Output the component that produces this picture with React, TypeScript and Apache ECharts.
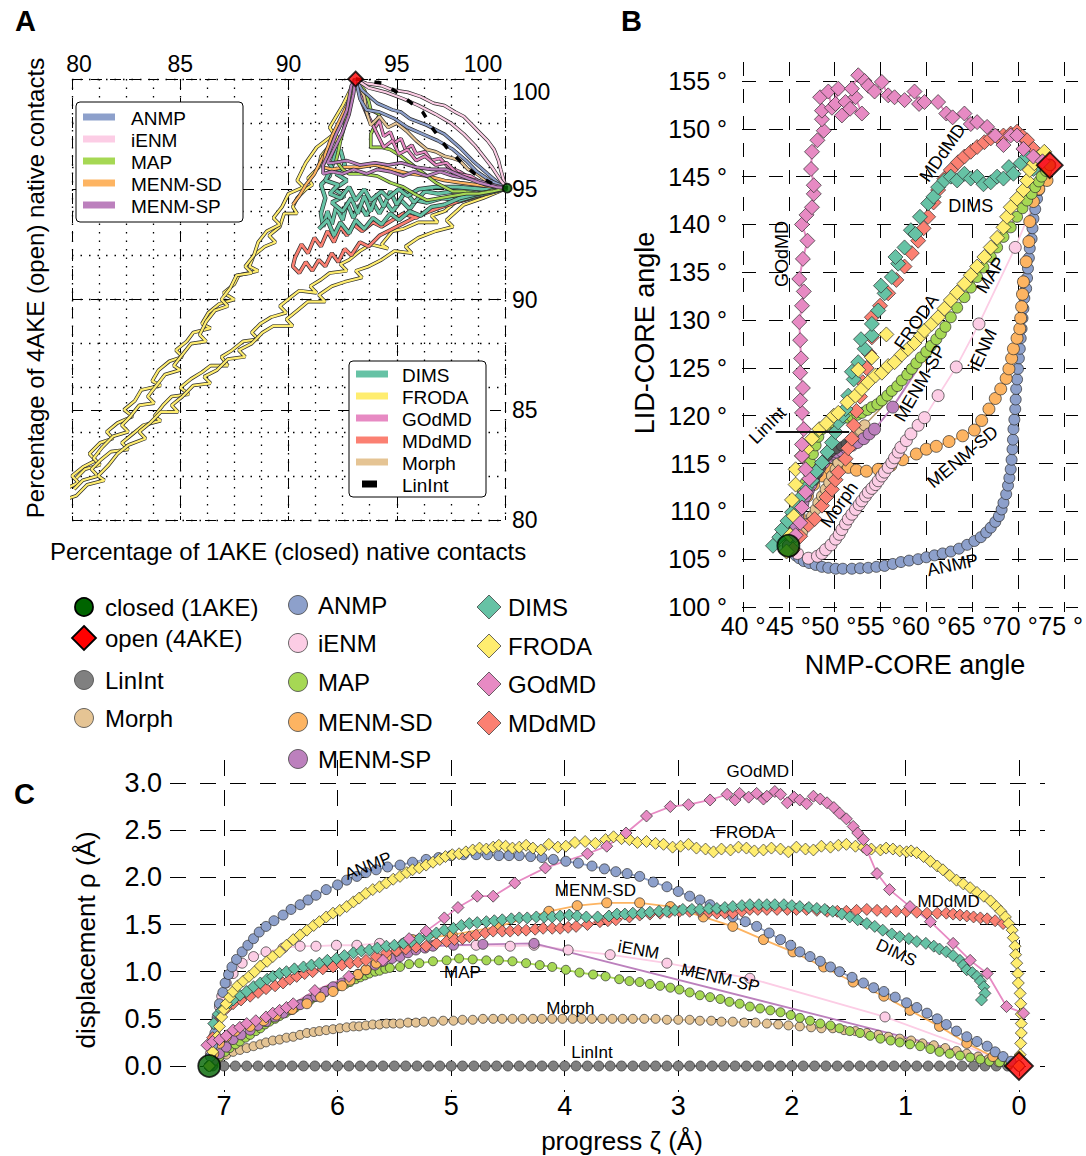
import React, { useEffect, useRef } from "react";
import * as echarts from "echarts";

type P = [number, number];

const FONT = '"Liberation Sans", Arial, Helvetica, sans-serif';

const COLORS: Record<string, string> = {
  ANMP: "#8DA0CB",
  iENM: "#FCCDE5",
  MAP: "#A6D854",
  "MENM-SD": "#FDB462",
  "MENM-SP": "#BC80BD",
  DIMS: "#66C2A5",
  FRODA: "#FFED6F",
  GOdMD: "#E78AC3",
  MDdMD: "#FB8072",
  Morph: "#E5C494",
  LinInt: "#808080",
};

// ---------------- Panel A : native contacts (%1AKE, %4AKE) ----------------
const A_CLOSED: P = [100.1, 95.05];
const A_OPEN: P = [93.1, 100];

const A_ANMP_1: P[] = [[93.1,100],[93.4,99.5],[94.1,98.9],[94.8,98.6],[95.2,98.5],[95.6,98.2],[96.4,97.9],[97.2,97.5],[97.9,96.9],[98.5,96.3],[99.2,95.7],[99.8,95.2],[100.1,95.05]];
const A_ANMP_2: P[] = [[93.1,100],[93.3,99.1],[93.6,98.6],[94.2,98.5],[94.9,98.2],[95.5,97.8],[96.2,97.5],[96.9,97.2],[97.6,96.8],[98.2,96.3],[98.7,95.8],[99.3,95.4],[100.1,95.05]];
const A_IENM_1: P[] = [[93.1,100],[93.6,99.8],[94.3,99.7],[94.8,99.5],[95.5,99.4],[96.1,99.2],[96.7,98.9],[97.2,98.8],[97.7,98.5],[98.1,98.3],[98.5,97.9],[98.8,97.6],[99.2,97.2],[99.5,96.8],[99.7,96.3],[99.8,95.9],[100.0,95.2]];
const A_IENM_2: P[] = [[93.1,100],[93.7,99.6],[94.5,99.4],[95.3,99.1],[96.0,98.8],[96.8,98.4],[97.5,98.0],[98.1,97.5],[98.6,97.0],[99.0,96.5],[99.4,96.0],[99.8,95.4],[100.1,95.05]];
const A_LININT: P[] = [[93.1,100],[94.4,99.8],[95.3,99.2],[96.2,98.5],[96.7,97.7],[97.3,96.9],[97.9,96.3],[98.6,95.7],[99.5,95.2],[100.1,95.05]];
const A_MORPH: P[] = [[93.1,100],[93.5,99.2],[93.6,98.5],[93.8,97.9],[94.2,98.3],[94.6,97.8],[95.0,98.0],[95.5,97.6],[95.9,97.2],[96.4,96.8],[96.8,96.7],[97.2,96.5],[97.6,96.4],[97.9,96.3],[98.3,95.9],[98.7,95.7],[99.1,95.4],[99.5,95.3],[100.1,95.05]];
const A_MAP_1: P[] = [[93.1,100],[93.5,99.5],[93.7,99.0],[93.8,98.6],[94.2,98.4],[94.0,97.9],[93.8,97.5],[93.8,96.9],[94.3,96.9],[94.7,96.8],[95.2,96.5],[95.6,96.2],[96.0,95.9],[96.4,95.6],[96.8,95.3],[97.2,95.1],[97.6,94.9],[98.1,94.9],[98.7,94.8],[99.2,94.9],[99.6,95.0],[100.1,95.05]];
const A_MAP_2: P[] = [[93.1,100],[92.9,99.3],[92.7,98.6],[92.6,97.9],[92.4,97.2],[92.3,96.7],[92.2,96.3],[92.5,95.9],[92.8,95.7],[93.4,95.7],[94.1,95.6],[94.7,95.3],[95.3,95.1],[95.8,94.8],[96.4,94.5],[97.0,94.6],[97.6,94.7],[98.2,94.8],[98.8,94.8],[99.4,94.9],[100.1,95.05]];
const A_MENMSD_1: P[] = [[93.1,100],[92.9,99.2],[92.6,98.5],[92.2,97.7],[91.9,97.0],[91.5,96.3],[91.2,95.7],[90.8,95.2],[90.5,94.7],[90.2,94.3]];
const A_MENMSD_2: P[] = [[93.1,100],[92.8,99.0],[92.4,98.2],[92.0,97.4],[91.7,96.6],[91.6,96.0],[92.0,95.9],[92.6,96.0],[93.3,96.0],[94.0,96.1],[94.8,95.9],[95.6,95.7],[96.4,95.6],[97.2,95.4],[97.9,95.3],[98.7,95.2],[99.5,95.1],[100.1,95.05]];
const A_MENMSP_1: P[] = [[93.1,100],[92.9,99.7],[92.7,98.6],[92.4,97.9],[92.2,97.5],[92.0,97.0],[91.8,96.5],[91.6,96.1],[91.6,95.7],[92.0,95.8],[92.5,95.7],[93.0,95.9],[93.6,95.7],[94.1,95.9],[94.7,95.8],[95.3,95.6],[95.8,95.8],[96.4,95.6],[97.0,95.8],[97.6,95.6],[98.2,95.5],[98.7,95.4],[99.4,95.2],[100.1,95.05]];
const A_MENMSP_2: P[] = [[93.1,100],[93.0,99.3],[92.8,98.4],[92.5,97.6],[92.1,96.8],[91.8,96.2],[92.1,96.2],[92.7,96.3],[93.3,96.1],[94.0,96.2],[94.6,96.1],[95.2,96.2],[95.9,96.0],[96.6,95.9],[97.3,95.9],[98.0,95.6],[98.8,95.3],[99.6,95.1],[100.1,95.05]];
const A_GODMD_1: P[] = [[93.1,100],[93.4,98.9],[93.7,98.2],[94.0,97.8],[94.2,98.1],[94.4,97.4],[94.7,97.6],[94.9,97.1],[95.2,97.3],[95.4,96.8],[95.7,97.0],[95.9,96.6],[96.3,96.7],[96.6,96.3],[97.0,96.4],[97.4,96.0],[97.9,95.8],[98.4,95.5],[99.0,95.3],[99.6,95.1],[100.1,95.05]];
const A_GODMD_2: P[] = [[93.1,100],[93.6,98.5],[94.1,97.5],[94.4,96.9],[94.8,97.2],[95.1,96.6],[95.5,96.8],[95.9,96.3],[96.3,96.5],[96.8,96.1],[97.3,96.2],[97.8,95.7],[98.4,95.6],[99.1,95.2],[100.1,95.05]];
const A_DIMS_1: P[] = [[100.1,95.05],[99.5,94.9],[98.6,94.7],[97.9,94.5],[97.1,94.6],[96.4,94.4],[95.9,94.5],[95.6,94.1],[95.2,94.5],[94.8,94.0],[94.5,94.4],[94.2,93.9],[93.9,94.4],[93.6,93.8],[93.3,94.3],[93.0,93.7],[92.7,94.4],[92.5,93.6],[92.2,94.2],[92.0,93.4],[91.8,94.0],[91.6,93.3],[91.5,93.9],[91.7,94.6],[91.5,95.2],[91.9,95.6],[92.1,96.4],[92.3,96.9]];
const A_DIMS_2: P[] = [[92.4,96.8],[92.6,96.1],[92.2,95.7],[92.7,95.4],[92.1,95.0],[92.6,94.7],[92.0,94.4],[92.5,94.0],[92.9,94.6],[93.2,93.9],[93.5,94.7],[93.8,94.0],[94.1,94.8],[94.4,94.2],[94.7,94.9],[95.0,94.3],[95.4,94.9],[95.8,94.4],[96.3,94.9],[96.9,94.8],[97.6,94.9],[98.5,95.0],[99.4,95.0],[100.1,95.05]];
const A_DIMS_3: P[] = [[91.4,93.2],[91.8,93.6],[92.1,92.9],[92.4,93.5],[92.8,93.0],[93.1,93.6],[93.5,93.2],[93.9,93.7],[94.3,93.4],[94.7,93.9],[95.1,93.6],[95.6,94.0],[96.1,93.8],[96.6,94.2],[97.2,94.3],[97.9,94.6],[98.8,94.8],[100.1,95.05]];
const A_DIMS_4: P[] = [[91.6,96.6],[92.0,96.0],[91.7,95.4],[92.3,95.2],[91.9,94.8],[92.4,94.6],[92.8,95.1],[93.1,94.5],[93.5,95.0],[93.8,94.5],[94.3,94.9],[94.6,94.6],[95.1,95.0],[95.5,94.7],[96.0,95.0],[96.8,95.1],[97.8,95.1],[99.0,95.0],[100.1,95.05]];
const A_MDDMD: P[] = [[100.1,95.05],[99.2,94.8],[98.3,94.6],[97.4,94.3],[96.5,94.1],[95.9,93.7],[95.3,93.9],[94.8,93.6],[94.3,93.3],[93.9,93.5],[93.4,93.1],[93.0,93.4],[92.7,92.9],[92.4,93.3],[92.1,92.6],[91.8,93.1],[91.5,92.4],[91.2,92.8],[90.9,92.1],[90.6,92.5],[90.3,91.9],[90.2,91.5],[90.5,91.2],[90.8,91.7],[91.1,91.3],[91.4,91.8],[91.7,91.5],[92.0,92.1],[92.3,91.7],[92.6,92.3],[92.9,92.0],[93.3,92.6],[93.7,92.4],[94.2,92.9],[94.8,93.2],[95.4,93.5],[96.0,93.8],[96.8,94.1],[97.7,94.4],[98.7,94.7],[100.1,95.05]];
const A_FRODA_1: P[] = [[93.1,100],[92.8,99.0],[92.6,98.3],[92.1,97.6],[92.3,97.3],[92.0,97.1],[91.5,96.5],[91.4,96.0],[90.9,95.5],[91.1,95.2],[90.8,95.0],[90.4,94.6],[90.2,94.2],[90.4,93.9],[89.8,93.9],[89.6,93.3],[89.1,92.9],[89.4,92.6],[88.9,92.4],[88.4,92.0],[88.2,91.5],[88.6,91.3],[87.7,91.1],[87.5,90.7],[87.0,90.3],[87.5,90.0],[86.8,89.8],[86.3,89.4],[86.0,88.9],[86.4,88.7],[85.6,88.5],[85.3,88.1],[84.8,87.7],[85.1,87.4],[84.5,87.2],[84.0,86.8],[83.7,86.3],[84.1,86.1],[83.2,85.9],[82.9,85.4],[82.4,85.0],[82.8,84.7],[82.1,84.4],[81.6,84.0],[81.9,83.7],[81.3,83.5],[80.8,83.0],[81.1,82.7],[80.5,82.4],[80.0,82.0],[80.3,81.7],[79.7,81.4],[79.2,81.0],[79.6,80.9],[79.1,80.8]];
const A_FRODA_2: P[] = [[100.1,95.05],[99.3,94.8],[98.5,94.6],[97.7,94.4],[97.2,94.0],[96.6,93.8],[96.9,93.5],[96.0,93.5],[95.3,93.2],[94.8,93.1],[94.3,92.5],[94.6,92.3],[93.8,92.5],[93.3,92.2],[92.8,91.8],[92.4,91.6],[92.7,91.3],[91.9,91.2],[91.5,90.9],[91.0,90.6],[91.3,90.3],[90.5,90.4],[90.1,90.1],[89.6,89.7],[89.9,89.4],[89.2,89.2],[88.7,88.9],[88.3,88.5],[88.6,88.2],[87.9,88.1],[87.4,87.7],[86.9,87.4],[87.2,87.0],[86.4,87.0],[86.0,86.7],[85.5,86.4],[85.0,86.0],[85.4,85.7],[84.6,85.6],[84.2,85.2],[83.8,84.7],[84.1,84.5],[83.3,84.3],[82.8,83.9],[82.3,83.5],[82.6,83.2],[81.8,83.1],[81.3,82.7],[80.9,82.3],[81.2,82.0],[80.5,81.8],[80.1,81.4]];
const A_FRODA_3: P[] = [[100.1,95.05],[99.0,94.6],[98.1,94.3],[97.3,93.6],[97.6,93.3],[96.8,93.1],[96.0,92.8],[95.4,92.4],[95.7,92.1],[94.9,92.2],[94.3,91.8],[93.7,91.5],[93.1,91.3],[93.4,91.0],[92.6,90.8],[92.0,90.6],[91.4,90.2],[91.7,89.9],[90.9,89.9],[90.4,89.5],[89.9,89.1],[90.2,88.8],[89.3,88.8],[88.8,88.5],[88.3,88.0],[87.7,87.7],[88.0,87.4],[87.2,87.3],[86.7,86.8],[86.1,86.5],[86.4,86.2],[85.6,86.1],[85.1,85.6],[84.6,85.2],[84.9,84.9],[84.1,84.9],[83.6,84.4],[83.1,84.0],[83.4,83.7],[82.6,83.4],[82.1,83.0],[81.7,82.5],[81.2,82.0],[81.5,81.8],[80.7,81.6],[80.2,81.1],[79.6,80.9]];
const A_FRODA_4: P[] = [[93.1,100],[92.5,98.8],[91.9,97.8],[92.1,97.5],[91.3,96.9],[90.8,96.2],[90.4,95.4],[90.7,95.1],[90.0,94.8],[89.7,94.2],[89.3,93.7],[89.6,93.4],[89.0,93.1],[88.6,92.6],[88.4,92.0],[88.0,91.5],[88.3,91.2],[87.6,91.1],[87.3,90.5],[86.9,90.0],[87.2,89.7],[86.6,89.5],[86.2,89.0],[85.9,88.4],[86.2,88.1],[85.5,88.0],[85.1,87.5],[84.7,87.0],[85.0,86.8],[84.3,86.6],[83.9,86.1],[83.5,85.6],[83.8,85.3],[83.1,85.2],[82.7,84.7],[82.3,84.3],[82.6,84.0],[81.9,83.8],[81.4,83.3],[81.0,82.8],[81.3,82.5],[80.6,82.3],[80.2,81.9]];

// ---------------- Panel B : NMP-CORE vs LID-CORE angle ----------------
const B_CLOSED: P = [45.0, 106.4];
const B_OPEN: P = [73.8, 146.2];

const B_ANMP: P[] = [[45.0,106.4],[45.4,105.8],[45.8,105.4],[46.2,105.1],[46.7,104.8],[47.3,104.6],[48.0,104.4],[48.7,104.2],[49.4,104.1],[50.2,104.0],[51.0,104.0],[52.0,104.0],[52.9,104.05],[53.8,104.1],[54.7,104.2],[55.6,104.3],[56.5,104.5],[57.4,104.7],[58.3,104.85],[59.3,105.0],[60.2,105.2],[61.1,105.4],[62.0,105.6],[62.9,105.8],[63.8,106.1],[64.7,106.5],[65.5,106.9],[66.2,107.3],[66.8,107.8],[67.3,108.3],[67.8,108.9],[68.2,109.5],[68.5,110.2],[68.7,110.9],[69.0,111.8],[69.2,112.7],[69.35,113.5],[69.5,114.4],[69.6,115.4],[69.7,116.5],[69.75,117.5],[69.8,118.6],[69.9,119.6],[70.0,120.7],[70.05,121.7],[70.1,122.8],[70.2,123.8],[70.3,124.9],[70.4,126.0],[70.5,127.0],[70.6,128.1],[70.7,129.1],[70.8,130.2],[70.9,131.2],[71.0,132.3],[71.2,133.3],[71.3,134.4],[71.4,135.4],[71.5,136.5],[71.6,137.5],[71.8,138.5],[71.9,139.6],[72.0,140.6],[72.2,141.6],[72.4,142.7],[72.6,143.6],[72.9,144.5],[73.3,145.4],[73.8,146.2]];
const B_IENM: P[] = [[45.0,106.4],[46.0,105.6],[47.2,105.1],[48.2,105.3],[48.7,105.6],[49.1,106.0],[49.7,106.5],[50.2,107.1],[50.6,107.6],[50.9,108.1],[51.3,108.7],[51.6,109.2],[52.0,109.7],[52.4,110.2],[52.8,110.7],[53.1,111.1],[53.5,111.6],[53.8,112.0],[54.2,112.4],[54.6,112.8],[54.9,113.2],[55.3,113.7],[55.6,114.1],[56.0,114.6],[56.4,115.1],[56.7,115.6],[57.1,116.2],[57.4,116.7],[58.0,117.4],[58.5,118.1],[59.3,119.0],[60.0,119.8],[61.5,122.1],[63.5,125.1],[66.0,129.6],[70.0,137.6],[73.8,146.2]];
const B_MAP: P[] = [[45.0,106.4],[45.4,107.8],[45.8,108.8],[46.1,109.9],[46.3,110.9],[46.6,112.0],[46.9,113.0],[47.2,114.1],[47.4,115.1],[47.7,116.0],[48.0,116.9],[48.3,117.8],[48.7,118.6],[49.2,119.0],[49.8,119.3],[50.3,119.5],[50.9,119.7],[51.5,119.8],[52.0,119.9],[52.6,120.1],[53.1,120.3],[53.7,120.6],[54.2,120.9],[54.8,121.2],[55.3,121.6],[55.9,122.1],[56.4,122.6],[57.0,123.1],[57.5,123.7],[58.1,124.3],[58.6,124.9],[59.1,125.5],[59.6,126.1],[60.2,126.7],[60.7,127.3],[61.3,128.0],[61.8,128.6],[62.3,129.3],[62.9,130.3],[63.6,131.3],[64.4,132.4],[65.1,133.4],[65.8,134.5],[66.5,135.5],[67.3,136.6],[68.0,137.6],[68.7,138.7],[69.5,139.7],[70.2,140.8],[70.8,141.7],[71.3,142.5],[71.8,143.2],[72.2,143.9],[72.6,144.5],[72.9,145.0],[73.4,145.6],[73.8,146.2]];
const B_MENMSD: P[] = [[45.0,106.4],[45.3,107.0],[45.6,107.6],[45.8,108.5],[46.2,109.5],[46.5,110.6],[47.1,111.6],[47.8,112.8],[48.7,113.7],[49.6,114.4],[50.5,114.9],[51.6,114.6],[52.5,114.3],[53.6,114.2],[54.9,114.4],[56.3,114.8],[57.6,115.4],[59.1,116.0],[60.2,116.5],[61.3,116.8],[62.7,117.3],[64.2,117.9],[65.5,118.5],[66.3,119.5],[67.1,120.7],[67.8,121.8],[68.4,122.8],[69.0,123.9],[69.3,124.9],[69.6,126.0],[69.8,127.0],[70.2,128.1],[70.5,129.1],[70.6,130.2],[70.7,131.4],[70.8,132.7],[70.9,134.0],[71.2,136.1],[71.5,138.2],[71.6,140.3],[72.0,142.4],[72.6,143.7],[73.5,144.6],[73.8,146.2]];
const B_MENMSP: P[] = [[45.0,106.4],[45.4,107.4],[45.8,108.6],[46.0,109.4],[46.3,110.2],[46.6,110.9],[46.9,111.6],[47.2,112.2],[47.5,112.8],[47.8,113.5],[48.2,114.1],[48.5,114.6],[48.9,115.1],[49.3,115.6],[49.8,116.0],[50.3,116.2],[50.9,116.3],[51.4,116.6],[52.0,116.9],[52.6,117.2],[53.3,117.6],[53.9,118.1],[54.5,118.6],[56.5,120.9]];
const B_MENMSP_TAIL: P[] = [[56.5,120.9],[73.8,146.2]];
const B_MORPH: P[] = [[45.0,106.4],[45.8,107.0],[46.5,107.8],[47.1,108.7],[47.6,109.5],[48.0,110.2],[48.3,110.9],[48.7,111.6],[49.1,112.3],[49.5,113.0],[49.8,113.7],[50.2,114.4],[50.5,115.1],[50.9,115.8],[51.3,116.5],[51.8,117.2],[52.4,117.9],[52.9,118.5],[53.4,119.0]];
const B_MORPH_TAIL: P[] = [[53.4,119.0],[57.0,122.6],[61.0,127.8],[65.5,134.0],[69.5,140.0],[73.8,146.2]];
const B_LININT: P[] = [[47.9,113.2],[48.2,113.9],[48.6,114.6],[49.0,115.3],[49.4,115.8],[49.8,116.2],[50.3,116.5],[50.8,116.8],[51.3,117.1],[51.8,117.5]];
const B_LININT_LEADER: P[] = [[43.6,118.3],[51.7,118.3]];
const B_DIMS: P[] = [[43.3,106.4],[44.0,107.3],[44.3,108.1],[44.9,109.0],[45.4,109.9],[45.9,110.8],[46.5,111.6],[47.0,112.5],[47.6,113.2],[48.1,114.2],[48.7,115.1],[49.3,116.2],[49.8,117.2],[50.2,118.3],[50.5,119.3],[51.0,120.0],[51.3,120.7],[51.6,122.1],[52.2,123.8],[52.0,124.6],[52.7,125.6],[53.4,127.0],[53.0,128.0],[54.2,128.4],[54.2,129.6],[54.9,131.0],[55.6,132.8],[55.2,133.6],[56.4,134.5],[57.1,135.9],[56.8,136.6],[57.8,137.6],[58.5,139.4],[59.0,139.0],[59.5,140.8],[60.4,142.2],[61.0,142.9],[61.5,143.9],[62.2,144.6],[62.9,145.0],[63.6,144.6],[64.4,145.3],[65.1,144.8],[65.8,145.0],[66.5,144.2],[67.3,144.4],[68.0,145.0],[68.7,144.8],[69.3,146.0],[69.8,145.3],[70.6,146.4],[71.3,147.1],[72.0,145.8],[72.4,146.7]];
const B_MDDMD: P[] = [[45.5,106.0],[46.3,107.4],[47.2,108.6],[47.9,109.2],[48.7,110.6],[49.2,111.5],[49.8,112.3],[50.2,113.3],[50.5,114.1],[51.3,115.5],[51.6,116.6],[52.0,117.6],[52.2,119.0],[52.5,120.5],[52.9,122.0],[53.2,123.5],[53.6,125.0],[53.9,126.5],[54.2,128.2],[54.2,130.3],[55.1,131.5],[56.0,132.8],[56.9,134.2],[57.8,135.6],[58.6,137.0],[59.3,138.3],[59.9,139.6],[60.4,140.8],[61.0,142.3],[61.5,143.6],[62.2,144.8],[62.9,145.7],[63.7,146.5],[64.4,147.1],[65.1,147.6],[65.8,148.1],[66.6,148.6],[67.3,149.0],[68.0,149.2],[68.7,149.3],[69.5,149.5],[70.2,149.7],[70.8,149.2],[71.3,148.8],[72.0,147.9],[72.7,147.1]];
const B_FRODA: P[] = [[44.8,105.8],[45.2,107.5],[45.6,109.5],[45.4,111.2],[45.8,112.8],[45.8,114.4],[46.5,115.8],[47.0,116.5],[47.6,117.6],[48.4,118.6],[49.2,119.2],[50.0,120.0],[50.5,120.3],[51.5,121.4],[52.4,122.1],[52.7,124.8],[53.1,122.8],[53.8,123.5],[54.2,126.1],[54.6,124.2],[55.3,124.5],[55.8,128.5],[56.0,125.2],[56.7,125.6],[57.5,126.4],[58.2,127.0],[58.9,127.6],[59.6,128.4],[60.0,128.9],[60.8,129.6],[61.5,130.3],[62.2,131.2],[62.9,132.1],[63.6,132.9],[64.4,133.8],[65.1,134.7],[65.8,135.6],[66.6,136.6],[67.3,137.6],[68.0,138.6],[68.7,139.7],[69.1,140.8],[69.5,141.8],[70.2,142.7],[70.9,143.6],[71.3,144.6],[71.6,145.7],[72.1,146.4],[72.6,147.1],[73.2,147.6]];
const B_GODMD: P[] = [[45.8,107.5],[46.3,108.8],[46.5,110.4],[46.9,112.0],[47.3,113.4],[46.9,114.4],[46.5,115.8],[46.5,117.0],[46.7,118.6],[46.5,120.3],[46.3,121.6],[46.6,122.9],[46.3,124.5],[46.4,126.0],[46.3,127.9],[46.2,129.8],[46.5,131.5],[46.7,133.0],[46.2,134.3],[46.6,136.4],[47.1,138.3],[46.5,140.0],[47.0,141.0],[47.6,141.8],[47.8,143.2],[47.8,144.1],[47.5,145.8],[47.6,147.6],[48.2,148.8],[48.9,149.8],[48.7,151.0],[48.7,151.9],[48.5,153.3],[49.4,153.9],[49.8,152.2],[50.5,154.2],[50.2,152.6],[51.3,152.8],[50.9,151.4],[52.4,153.3],[51.8,152.1],[53.1,151.6],[52.0,154.2],[52.7,155.6],[53.4,155.0],[53.8,154.5],[54.5,153.9],[55.3,154.9],[56.0,153.5],[56.7,153.3],[57.8,153.0],[58.9,153.9],[59.4,152.6],[60.0,152.8],[61.5,152.8],[62.4,151.6],[63.1,151.2],[64.4,151.6],[65.1,150.5],[65.8,150.7],[66.9,150.2],[67.8,149.3],[68.7,148.3],[69.5,149.3],[70.2,149.3],[70.9,147.9],[72.0,147.1],[73.0,146.6]];

const B_LABELS = [
  { name: "GOdMD", x: 44.3, y: 136.9, rot: 90 },
  { name: "MDdMD", x: 62.0, y: 147.5, rot: 55 },
  { name: "DIMS", x: 65.1, y: 141.9, rot: 0 },
  { name: "MAP", x: 67.3, y: 134.7, rot: 58 },
  { name: "FRODA", x: 59.1, y: 129.8, rot: 55 },
  { name: "MENM-SP", x: 59.5, y: 123.4, rot: 60 },
  { name: "iENM", x: 66.4, y: 126.9, rot: 65 },
  { name: "MENM-SD", x: 64.2, y: 115.7, rot: 40 },
  { name: "Morph", x: 50.6, y: 110.7, rot: 55 },
  { name: "LinInt", x: 42.7, y: 119.0, rot: 45 },
  { name: "ANMP", x: 63.1, y: 104.4, rot: 12 },
];

// ---------------- Panel C : progress vs displacement ----------------
const C_CLOSED: P = [7.13, 0];
const C_OPEN: P = [0, 0];

const C_ANMP: P[] = [[7.13,0],[7.12,0.1],[7.1,0.22],[7.08,0.35],[7.06,0.5],[7.04,0.66],[7.01,0.78],[6.99,0.88],[6.96,0.97],[6.93,1.05],[6.89,1.13],[6.84,1.21],[6.79,1.28],[6.74,1.35],[6.69,1.42],[6.63,1.48],[6.56,1.54],[6.48,1.6],[6.41,1.66],[6.33,1.71],[6.26,1.76],[6.19,1.81],[6.1,1.87],[6.0,1.92],[5.92,1.97],[5.83,2.01],[5.75,2.05],[5.66,2.08],[5.56,2.11],[5.45,2.13],[5.34,2.16],[5.22,2.19],[5.11,2.21],[5.0,2.23],[4.89,2.24],[4.78,2.24],[4.68,2.24],[4.58,2.23],[4.49,2.23],[4.4,2.23],[4.3,2.22],[4.2,2.21],[4.1,2.19],[3.99,2.17],[3.88,2.15],[3.76,2.12],[3.65,2.09],[3.55,2.06],[3.45,2.04],[3.34,2.01],[3.22,1.95],[3.1,1.9],[3.0,1.85],[2.9,1.8],[2.81,1.76],[2.72,1.71],[2.62,1.65],[2.52,1.58],[2.41,1.53],[2.31,1.48],[2.2,1.41],[2.1,1.34],[2.01,1.28],[1.93,1.21],[1.84,1.16],[1.75,1.11],[1.66,1.05],[1.58,1.0],[1.47,0.94],[1.37,0.88],[1.28,0.83],[1.19,0.79],[1.09,0.73],[0.99,0.67],[0.9,0.62],[0.81,0.56],[0.72,0.5],[0.64,0.44],[0.55,0.37],[0.46,0.31],[0.37,0.26],[0.28,0.21],[0.21,0.15],[0.14,0.1],[0.07,0.05],[0,0]];
const C_IENM: P[] = [[7.13,0],[7.12,0.13],[7.1,0.22],[7.09,0.31],[7.07,0.42],[7.06,0.52],[7.04,0.63],[7.02,0.74],[6.98,0.88],[6.92,0.98],[6.84,1.09],[6.74,1.16],[6.63,1.21],[6.48,1.25],[6.33,1.27],[6.19,1.27],[6.01,1.28],[5.83,1.28],[5.63,1.3],[5.42,1.3],[5.16,1.28],[4.78,1.28],[4.48,1.27],[4.27,1.28],[3.97,1.23],[3.6,1.18],[3.1,1.09],[2.37,0.93],[1.18,0.52],[0,0]];
const C_MAP: P[] = [[7.13,0],[7.08,0.05],[7.04,0.1],[6.99,0.15],[6.95,0.19],[6.9,0.23],[6.86,0.26],[6.81,0.3],[6.77,0.33],[6.72,0.37],[6.68,0.4],[6.64,0.44],[6.6,0.47],[6.55,0.5],[6.51,0.53],[6.46,0.56],[6.42,0.59],[6.37,0.62],[6.33,0.65],[6.28,0.68],[6.24,0.7],[6.2,0.73],[6.16,0.75],[6.11,0.78],[6.07,0.81],[6.02,0.83],[5.98,0.85],[5.93,0.87],[5.89,0.89],[5.84,0.92],[5.8,0.94],[5.76,0.96],[5.72,0.98],[5.67,1.0],[5.63,1.01],[5.58,1.03],[5.54,1.04],[5.45,1.05],[5.37,1.08],[5.28,1.09],[5.16,1.11],[5.04,1.12],[4.93,1.14],[4.81,1.13],[4.69,1.12],[4.58,1.12],[4.46,1.11],[4.34,1.09],[4.22,1.07],[4.11,1.05],[3.99,1.02],[3.87,0.99],[3.75,0.97],[3.64,0.95],[3.52,0.92],[3.43,0.9],[3.34,0.89],[3.25,0.87],[3.16,0.85],[3.07,0.83],[2.99,0.81],[2.9,0.78],[2.81,0.75],[2.72,0.73],[2.63,0.71],[2.55,0.68],[2.46,0.66],[2.37,0.63],[2.28,0.61],[2.19,0.59],[2.1,0.57],[2.01,0.54],[1.93,0.51],[1.84,0.48],[1.75,0.45],[1.66,0.43],[1.58,0.4],[1.49,0.37],[1.4,0.35],[1.31,0.32],[1.22,0.29],[1.13,0.27],[1.05,0.25],[0.96,0.23],[0.87,0.21],[0.78,0.18],[0.7,0.15],[0.61,0.13],[0.52,0.11],[0.43,0.09],[0.34,0.07],[0.26,0.05],[0.17,0.04],[0.09,0.02],[0,0]];
const C_MENMSD: P[] = [[7.13,0],[7.09,0.13],[7.04,0.24],[6.98,0.31],[6.9,0.37],[6.77,0.42],[6.65,0.48],[6.54,0.54],[6.4,0.6],[6.27,0.66],[6.15,0.73],[6.04,0.79],[5.96,0.85],[5.89,0.91],[5.82,0.97],[5.75,1.02],[5.66,1.09],[5.57,1.16],[5.48,1.22],[5.4,1.28],[5.34,1.34],[4.99,1.39],[4.58,1.48],[4.14,1.64],[3.89,1.7],[3.63,1.73],[3.34,1.73],[3.07,1.69],[2.78,1.58],[2.52,1.48],[2.25,1.34],[1.99,1.21],[1.72,1.05],[1.46,0.89],[1.19,0.74],[0.96,0.59],[0.7,0.42],[0.46,0.24],[0.23,0.1],[0,0]];
const C_MENMSP: P[] = [[7.13,0],[7.09,0.06],[7.04,0.13],[6.98,0.2],[6.92,0.28],[6.85,0.33],[6.77,0.38],[6.7,0.43],[6.63,0.47],[6.55,0.52],[6.48,0.56],[6.4,0.6],[6.33,0.65],[6.26,0.7],[6.19,0.74],[6.11,0.79],[6.04,0.84],[5.96,0.88],[5.89,0.93],[5.82,0.97],[5.75,1.02],[5.67,1.07],[5.6,1.11],[5.52,1.14],[5.45,1.16],[5.38,1.2],[5.31,1.23],[5.23,1.25],[5.16,1.27],[4.98,1.28],[4.72,1.29],[4.27,1.3],[0,0]];
const C_MORPH: P[] = [[7.13,0],[7.09,0.06],[7.04,0.09],[6.98,0.12],[6.92,0.15],[6.86,0.17],[6.8,0.19],[6.74,0.21],[6.68,0.23],[6.63,0.25],[6.57,0.27],[6.51,0.28],[6.45,0.3],[6.39,0.31],[6.33,0.33],[6.27,0.35],[6.21,0.36],[6.16,0.37],[6.1,0.38],[6.04,0.39],[5.98,0.4],[5.92,0.41],[5.86,0.42],[5.81,0.42],[5.75,0.43],[5.69,0.44],[5.63,0.44],[5.57,0.45],[5.51,0.45],[5.45,0.45],[5.38,0.46],[5.31,0.46],[5.24,0.47],[5.16,0.47],[5.07,0.48],[4.98,0.48],[4.9,0.49],[4.81,0.49],[4.72,0.5],[4.63,0.5],[4.55,0.5],[4.46,0.5],[4.37,0.5],[4.28,0.5],[4.2,0.5],[4.11,0.5],[4.02,0.5],[3.93,0.5],[3.85,0.5],[3.76,0.5],[3.67,0.5],[3.58,0.5],[3.49,0.5],[3.4,0.5],[3.3,0.5],[3.2,0.5],[3.1,0.49],[3.0,0.49],[2.9,0.49],[2.81,0.48],[2.71,0.48],[2.62,0.47],[2.52,0.47],[2.42,0.46],[2.32,0.46],[2.22,0.45],[2.12,0.44],[2.03,0.43],[1.93,0.42],[1.83,0.41],[1.74,0.4],[1.64,0.4],[1.54,0.38],[1.44,0.37],[1.34,0.35],[1.24,0.33],[1.15,0.31],[1.05,0.29],[0.95,0.27],[0.85,0.24],[0.75,0.22],[0.65,0.19],[0.55,0.16],[0.46,0.13],[0.36,0.1],[0.27,0.07],[0.18,0.04],[0.09,0.02],[0,0]];
const C_LININT_X: number[] = [7.1,7.0,6.9,6.8,6.7,6.6,6.5,6.4,6.3,6.2,6.1,6.0,5.9,5.8,5.7,5.6,5.5,5.4,5.3,5.2,5.1,5.0,4.9,4.8,4.7,4.6,4.5,4.4,4.3,4.2,4.1,4.0,3.9,3.8,3.7,3.6,3.5,3.4,3.3,3.2,3.1,3.0,2.9,2.8,2.7,2.6,2.5,2.4,2.3,2.2,2.1,2.0,1.9,1.8,1.7,1.6,1.5,1.4,1.3,1.2,1.1,1.0,0.9,0.8,0.7,0.6,0.5,0.4,0.3,0.2,0.1];
const C_LININT_Y = 0;
const C_FRODA: P[] = [[7.13,0],[7.1,0.15],[7.06,0.31],[7.04,0.42],[7.02,0.52],[7.0,0.6],[6.98,0.66],[6.95,0.73],[6.92,0.79],[6.88,0.85],[6.83,0.9],[6.78,0.95],[6.73,1.0],[6.68,1.06],[6.62,1.11],[6.57,1.16],[6.51,1.21],[6.45,1.28],[6.39,1.34],[6.33,1.39],[6.27,1.44],[6.21,1.49],[6.16,1.53],[6.1,1.58],[6.04,1.62],[5.98,1.65],[5.92,1.69],[5.86,1.74],[5.81,1.78],[5.75,1.83],[5.69,1.87],[5.63,1.9],[5.57,1.94],[5.51,1.98],[5.45,2.01],[5.39,2.05],[5.34,2.08],[5.28,2.1],[5.22,2.13],[5.16,2.16],[5.1,2.19],[5.05,2.22],[4.99,2.24],[4.93,2.25],[4.87,2.27],[4.81,2.29],[4.75,2.31],[4.69,2.3],[4.63,2.32],[4.58,2.34],[4.52,2.33],[4.46,2.31],[4.4,2.32],[4.34,2.34],[4.28,2.31],[4.21,2.29],[4.14,2.35],[4.06,2.32],[3.99,2.33],[3.91,2.37],[3.82,2.38],[3.73,2.36],[3.64,2.4],[3.57,2.43],[3.5,2.41],[3.43,2.4],[3.36,2.37],[3.28,2.38],[3.2,2.36],[3.13,2.35],[3.05,2.32],[2.98,2.33],[2.91,2.35],[2.84,2.31],[2.76,2.3],[2.69,2.27],[2.62,2.3],[2.54,2.29],[2.47,2.32],[2.4,2.31],[2.33,2.28],[2.25,2.29],[2.18,2.31],[2.1,2.3],[2.03,2.27],[1.96,2.32],[1.88,2.3],[1.81,2.29],[1.74,2.33],[1.66,2.32],[1.59,2.34],[1.52,2.35],[1.44,2.33],[1.37,2.32],[1.3,2.3],[1.22,2.29],[1.17,2.31],[1.11,2.3],[1.05,2.28],[0.99,2.27],[0.95,2.28],[0.9,2.26],[0.84,2.22],[0.78,2.17],[0.72,2.12],[0.67,2.08],[0.61,2.02],[0.55,1.97],[0.49,1.93],[0.43,1.89],[0.37,1.84],[0.31,1.8],[0.25,1.75],[0.2,1.69],[0.16,1.64],[0.12,1.58],[0.09,1.51],[0.06,1.44],[0.05,1.36],[0.035,1.27],[0.03,1.18],[0.02,1.09],[0.01,0.98],[0.006,0.88],[-0.01,0.77],[-0.015,0.66],[-0.02,0.55],[-0.02,0.45],[-0.02,0.35],[-0.015,0.24],[-0.01,0.12],[0,0]];
const C_GODMD: P[] = [[7.15,0.22],[7.1,0.26],[7.04,0.28],[6.98,0.32],[6.92,0.38],[6.86,0.41],[6.8,0.45],[6.72,0.48],[6.63,0.52],[6.57,0.56],[6.51,0.59],[6.45,0.62],[6.39,0.66],[6.2,0.8],[5.9,0.95],[5.6,1.12],[5.37,1.35],[5.22,1.43],[5.06,1.57],[4.94,1.68],[4.77,1.8],[4.63,1.8],[4.44,1.94],[4.17,2.1],[3.8,2.25],[3.63,2.33],[3.46,2.47],[3.28,2.65],[3.07,2.75],[2.91,2.77],[2.72,2.82],[2.57,2.88],[2.5,2.82],[2.46,2.89],[2.38,2.85],[2.31,2.89],[2.25,2.83],[2.22,2.86],[2.15,2.91],[2.1,2.88],[2.04,2.79],[1.98,2.85],[1.93,2.82],[1.87,2.78],[1.81,2.86],[1.75,2.83],[1.69,2.79],[1.63,2.74],[1.58,2.68],[1.52,2.62],[1.46,2.54],[1.42,2.47],[1.37,2.4],[1.34,2.29],[1.25,2.04],[1.14,1.87],[0.96,1.69],[0.78,1.53],[0.58,1.3],[0.43,1.12],[0.28,0.98],[0.11,0.63],[-0.04,0.56]];
const C_DIMS: P[] = [[7.13,0],[7.09,0.45],[7.05,0.55],[7.02,0.59],[6.97,0.65],[6.92,0.7],[6.86,0.75],[6.8,0.79],[6.74,0.84],[6.68,0.88],[6.62,0.92],[6.57,0.95],[6.51,0.98],[6.45,1.0],[6.38,1.03],[6.3,1.05],[6.23,1.07],[6.16,1.09],[6.09,1.12],[6.01,1.14],[5.94,1.17],[5.86,1.2],[5.79,1.22],[5.72,1.23],[5.65,1.25],[5.57,1.27],[5.5,1.28],[5.42,1.3],[5.35,1.32],[5.28,1.35],[5.2,1.38],[5.13,1.41],[5.06,1.44],[4.98,1.46],[4.91,1.49],[4.84,1.51],[4.77,1.52],[4.69,1.53],[4.62,1.54],[4.55,1.55],[4.47,1.56],[4.4,1.57],[4.33,1.57],[4.25,1.58],[4.18,1.58],[4.11,1.58],[4.04,1.59],[3.96,1.6],[3.89,1.59],[3.81,1.58],[3.71,1.58],[3.61,1.59],[3.54,1.61],[3.47,1.61],[3.4,1.62],[3.32,1.62],[3.25,1.63],[3.17,1.64],[3.1,1.64],[3.03,1.65],[2.96,1.66],[2.88,1.66],[2.81,1.66],[2.73,1.67],[2.66,1.67],[2.59,1.68],[2.52,1.69],[2.44,1.7],[2.37,1.71],[2.29,1.71],[2.22,1.71],[2.15,1.71],[2.07,1.71],[2.0,1.7],[1.93,1.69],[1.85,1.68],[1.78,1.67],[1.71,1.66],[1.64,1.64],[1.56,1.61],[1.49,1.58],[1.42,1.55],[1.34,1.51],[1.27,1.48],[1.2,1.44],[1.12,1.4],[1.05,1.37],[0.97,1.35],[0.9,1.32],[0.82,1.3],[0.75,1.27],[0.7,1.24],[0.64,1.21],[0.58,1.17],[0.52,1.12],[0.49,1.07],[0.46,1.02],[0.41,0.99],[0.37,0.95],[0.34,0.9],[0.31,0.84],[0.3,0.77],[0.33,0.7]];
const C_MDDMD: P[] = [[7.13,0],[7.1,0.3],[7.08,0.45],[7.03,0.55],[6.97,0.62],[6.92,0.66],[6.85,0.7],[6.77,0.74],[6.7,0.78],[6.63,0.82],[6.55,0.85],[6.48,0.88],[6.42,0.92],[6.36,0.95],[6.29,0.98],[6.22,1.0],[6.13,1.03],[6.04,1.05],[5.96,1.07],[5.89,1.09],[5.82,1.1],[5.75,1.12],[5.66,1.16],[5.57,1.2],[5.48,1.22],[5.4,1.24],[5.31,1.26],[5.22,1.27],[5.13,1.3],[5.04,1.32],[4.97,1.34],[4.9,1.35],[4.84,1.37],[4.78,1.39],[4.7,1.41],[4.63,1.43],[4.55,1.43],[4.48,1.43],[4.41,1.44],[4.34,1.44],[4.26,1.45],[4.19,1.46],[4.11,1.46],[4.04,1.46],[3.97,1.47],[3.9,1.48],[3.8,1.5],[3.69,1.53],[3.62,1.54],[3.55,1.55],[3.43,1.58],[3.34,1.6],[3.25,1.61],[3.16,1.62],[3.08,1.63],[2.99,1.64],[2.9,1.64],[2.81,1.64],[2.73,1.63],[2.66,1.62],[2.59,1.62],[2.52,1.62],[2.44,1.64],[2.37,1.66],[2.3,1.66],[2.22,1.66],[2.13,1.66],[2.04,1.66],[1.96,1.66],[1.87,1.66],[1.78,1.65],[1.69,1.64],[1.6,1.64],[1.52,1.64],[1.43,1.65],[1.34,1.66],[1.25,1.65],[1.17,1.64],[1.08,1.64],[0.99,1.64],[0.9,1.63],[0.81,1.62],[0.72,1.62],[0.64,1.62],[0.58,1.61],[0.52,1.6],[0.46,1.59],[0.4,1.58],[0.34,1.57],[0.28,1.56],[0.21,1.54],[0.14,1.51]];

const C_LABELS = [
  { name: "ANMP", x: 5.73, y: 2.12, rot: 22 },
  { name: "MAP", x: 4.9, y: 0.99, rot: 0 },
  { name: "Morph", x: 3.95, y: 0.61, rot: 0 },
  { name: "LinInt", x: 3.76, y: 0.14, rot: 0 },
  { name: "MENM-SD", x: 3.73, y: 1.86, rot: 0 },
  { name: "iENM", x: 3.35, y: 1.23, rot: -10 },
  { name: "MENM-SP", x: 2.63, y: 0.93, rot: -13 },
  { name: "GOdMD", x: 2.3, y: 3.12, rot: 0 },
  { name: "FRODA", x: 2.41, y: 2.48, rot: 0 },
  { name: "DIMS", x: 1.08, y: 1.2, rot: -25 },
  { name: "MDdMD", x: 0.62, y: 1.74, rot: 0 },
];

// legends
const A_LEGEND_1 = ["ANMP", "iENM", "MAP", "MENM-SD", "MENM-SP"];
const A_LEGEND_2 = ["DIMS", "FRODA", "GOdMD", "MDdMD", "Morph", "LinInt"];
const MID_LEGEND_COL1 = ["closed (1AKE)", "open (4AKE)", "LinInt", "Morph"];
const MID_LEGEND_COL2 = ["ANMP", "iENM", "MAP", "MENM-SD", "MENM-SP"];
const MID_LEGEND_COL3 = ["DIMS", "FRODA", "GOdMD", "MDdMD"];

// ---------------- helpers ----------------
const EDGE = "#2b2b2b";

function outlined(data: P[], color: string, width = 2.2): any[] {
  const base = {
    type: "line", xAxisIndex: 0, yAxisIndex: 0, data, symbol: "none", showSymbol: false,
    clip: false, silent: true, animation: false, z: 2,
  };
  return [
    { ...base, lineStyle: { color: EDGE, width: width + 1.4 } },
    { ...base, lineStyle: { color, width } },
  ];
}

function markerLine(data: P[], color: string, symbol: string, size: number, xi: number, yi: number, lineWidth = 1.8, z = 3): any {
  return {
    type: "line", xAxisIndex: xi, yAxisIndex: yi, data, symbol, symbolSize: size, showSymbol: true,
    clip: false, silent: true, animation: false, z,
    lineStyle: { color, width: lineWidth },
    itemStyle: { color, borderColor: EDGE, borderWidth: 0.7 },
  };
}

function markerScatter(data: P[], color: string, symbol: string, size: number, xi: number, yi: number, z = 3): any {
  return {
    type: "scatter", xAxisIndex: xi, yAxisIndex: yi, data, symbol, symbolSize: size,
    clip: false, silent: true, animation: false, z,
    itemStyle: { color, borderColor: EDGE, borderWidth: 0.7, opacity: 1 },
  };
}

function plainLine(data: P[], color: string, width: number, xi: number, yi: number, type: any = "solid", z = 3): any {
  return {
    type: "line", xAxisIndex: xi, yAxisIndex: yi, data, symbol: "none", showSymbol: false,
    clip: false, silent: true, animation: false, z,
    lineStyle: { color, width, type },
  };
}

function stateMarkers(closed: P, open: P, cSize: number, oSize: number, xi: number, yi: number): any[] {
  return [
    { type: "scatter", xAxisIndex: xi, yAxisIndex: yi, data: [closed], symbol: "circle", symbolSize: cSize, clip: false, silent: true, z: 20,
      itemStyle: { color: "#006400", borderColor: "#000", borderWidth: 1.8 } },
    { type: "scatter", xAxisIndex: xi, yAxisIndex: yi, data: [open], symbol: "diamond", symbolSize: oSize, clip: false, silent: true, z: 20,
      itemStyle: { color: "#FF0000", borderColor: "#000", borderWidth: 1.8 } },
  ];
}

function labelSeries(labels: { name: string; x: number; y: number; rot: number }[], xi: number, yi: number, size: number): any {
  return {
    type: "scatter", xAxisIndex: xi, yAxisIndex: yi, symbolSize: 1, clip: false, silent: true, z: 15,
    itemStyle: { color: "#000000", opacity: 0 },
    data: labels.map((l) => ({ name: l.name, value: [l.x, l.y], label: { rotate: l.rot } })),
    label: {
      show: true, position: "inside", formatter: "{b}", fontSize: size, color: "#000000", fontFamily: FONT,
      textBorderWidth: 0, textBorderColor: "transparent", opacity: 1,
    },
  };
}

const dashLine = (pattern: number[], width = 1) => ({ show: true, lineStyle: { color: "#000", width, type: pattern } });
const hidden = { axisLine: { show: false }, axisTick: { show: false } };

function txt(text: string, x: number, y: number, size: number, opts: any = {}): any {
  return {
    type: "text", x, y, rotation: opts.rotation || 0, z: 100,
    style: {
      text, fontSize: size, fontFamily: FONT, fontWeight: opts.weight || "normal", fill: "#000",
      align: opts.align || "left", textAlign: opts.align || "left",
      verticalAlign: "middle", textVerticalAlign: "middle",
    },
  };
}

function buildOption(): any {
  const series: any[] = [];

  // ---- Panel A
  [A_FRODA_1, A_FRODA_4, A_FRODA_2, A_FRODA_3].forEach((d) => series.push(...outlined(d, COLORS.FRODA)));
  series.push(...outlined(A_MDDMD, COLORS.MDdMD, 2.6));
  [A_DIMS_1, A_DIMS_2, A_DIMS_3, A_DIMS_4].forEach((d) => series.push(...outlined(d, COLORS.DIMS, 3)));
  [A_MENMSD_1, A_MENMSD_2].forEach((d) => series.push(...outlined(d, COLORS["MENM-SD"])));
  [A_MAP_1, A_MAP_2].forEach((d) => series.push(...outlined(d, COLORS.MAP)));
  [A_GODMD_1, A_GODMD_2].forEach((d) => series.push(...outlined(d, COLORS.GOdMD)));
  series.push(...outlined(A_MORPH, COLORS.Morph));
  [A_ANMP_1, A_ANMP_2].forEach((d) => series.push(...outlined(d, COLORS.ANMP)));
  [A_IENM_1, A_IENM_2].forEach((d) => series.push(...outlined(d, COLORS.iENM)));
  [A_MENMSP_1, A_MENMSP_2].forEach((d) => series.push(...outlined(d, COLORS["MENM-SP"])));
  series.push(plainLine(A_LININT, "#000", 3.5, 0, 0, [7, 12], 4));
  series.push(...stateMarkers(A_CLOSED, A_OPEN, 9, 15, 0, 0));

  // ---- Panel B (data axes: x 2, y 2)
  series.push(markerLine(B_ANMP, COLORS.ANMP, "circle", 11, 2, 2));
  series.push(markerLine(B_MENMSD, COLORS["MENM-SD"], "circle", 12, 2, 2));
  series.push(markerLine(B_IENM, COLORS.iENM, "circle", 12, 2, 2));
  series.push(plainLine(B_MORPH_TAIL, "#B89A6A", 1.5, 2, 2));
  series.push(plainLine(B_MENMSP_TAIL, COLORS["MENM-SP"], 2, 2, 2));
  series.push(markerLine(B_MAP, COLORS.MAP, "circle", 11, 2, 2));
  series.push(markerLine(B_MORPH, COLORS.Morph, "circle", 11, 2, 2));
  series.push(markerLine(B_MENMSP, COLORS["MENM-SP"], "circle", 12, 2, 2));
  series.push(markerScatter(B_LININT, "#555555", "circle", 9, 2, 2));
  series.push(markerScatter(B_MDDMD, COLORS.MDdMD, "diamond", 15, 2, 2));
  series.push(markerScatter(B_DIMS, COLORS.DIMS, "diamond", 15, 2, 2));
  series.push(markerScatter(B_FRODA, COLORS.FRODA, "diamond", 15, 2, 2));
  series.push(markerLine(B_GODMD, COLORS.GOdMD, "diamond", 15, 2, 2, 2));
  series.push(plainLine(B_LININT_LEADER, "#111", 2, 2, 2, "solid", 12));
  series.push(labelSeries(B_LABELS, 2, 2, 18));
  series.push(...stateMarkers(B_CLOSED, B_OPEN, 22, 26, 2, 2));

  // ---- Panel C (data axes: x 5, y 5)
  series.push(markerLine(C_LININT_X.map((x) => [x, C_LININT_Y] as P), COLORS.LinInt, "circle", 10, 5, 5));
  series.push(markerLine(C_MORPH, COLORS.Morph, "circle", 9, 5, 5));
  series.push(markerLine(C_MAP, COLORS.MAP, "circle", 9, 5, 5));
  series.push(markerLine(C_IENM, COLORS.iENM, "circle", 10, 5, 5));
  series.push(markerLine(C_MENMSP, COLORS["MENM-SP"], "circle", 10, 5, 5));
  series.push(markerLine(C_MENMSD, COLORS["MENM-SD"], "circle", 10, 5, 5));
  series.push(markerLine(C_ANMP, COLORS.ANMP, "circle", 10, 5, 5));
  series.push(markerLine(C_MDDMD, COLORS.MDdMD, "diamond", 12, 5, 5));
  series.push(markerLine(C_DIMS, COLORS.DIMS, "diamond", 12, 5, 5));
  series.push(markerLine(C_FRODA, COLORS.FRODA, "diamond", 12, 5, 5));
  series.push(markerLine(C_GODMD, COLORS.GOdMD, "diamond", 12, 5, 5));
  series.push(labelSeries(C_LABELS, 5, 5, 17));
  series.push(...stateMarkers(C_CLOSED, C_OPEN, 22, 28, 5, 5));

  // ---- graphic: legends, titles, panel letters
  const g: any[] = [];
  g.push(txt("A", 15, 21, 29, { weight: "bold" }));
  g.push(txt("B", 621, 21, 29, { weight: "bold" }));
  g.push(txt("C", 14, 794, 29, { weight: "bold" }));

  g.push(txt("Percentage of 1AKE (closed) native contacts", 288, 551, 24, { align: "center" }));
  g.push(txt("Percentage of 4AKE (open) native contacts", 35, 288, 24, { align: "center", rotation: Math.PI / 2 }));
  g.push(txt("LID-CORE angle", 645, 333, 27, { align: "center", rotation: Math.PI / 2 }));
  g.push(txt("NMP-CORE angle", 915, 665, 27, { align: "center" }));
  g.push(txt("displacement ρ (Å)", 86, 940, 26, { align: "center", rotation: Math.PI / 2 }));
  g.push(txt("progress ζ (Å)", 622, 1141, 26, { align: "center" }));

  // Panel A legend boxes
  g.push({ type: "rect", z: 99, shape: { x: 76, y: 102, width: 167, height: 120, r: 4 }, style: { fill: "#fff", stroke: "#000", lineWidth: 1 } });
  const rows1 = [117, 139, 161, 183, 205];
  A_LEGEND_1.forEach((n, i) => {
    g.push({ type: "line", z: 100, shape: { x1: 83, y1: rows1[i], x2: 115, y2: rows1[i] }, style: { stroke: COLORS[n], lineWidth: 7 } });
    g.push(txt(n, 131, rows1[i] + 1, 19));
  });
  g.push({ type: "rect", z: 99, shape: { x: 349, y: 361, width: 137, height: 136, r: 4 }, style: { fill: "#fff", stroke: "#000", lineWidth: 1 } });
  const rows2 = [374, 396, 418, 440, 462, 484];
  A_LEGEND_2.forEach((n, i) => {
    const isLin = n === "LinInt";
    g.push({ type: "line", z: 100, shape: { x1: isLin ? 362 : 356, y1: rows2[i], x2: isLin ? 377 : 388, y2: rows2[i] }, style: { stroke: isLin ? "#000" : COLORS[n], lineWidth: 7 } });
    g.push(txt(n, 402, rows2[i] + 1, 19));
  });

  // middle legend
  const col1Y = [607, 638, 680, 718];
  MID_LEGEND_COL1.forEach((n, i) => {
    const y = col1Y[i];
    if (i === 1) {
      g.push({ type: "polygon", z: 100, shape: { points: [[84, y - 12], [96, y], [84, y + 12], [72, y]] }, style: { fill: "#FF0000", stroke: "#000", lineWidth: 1.8 } });
    } else {
      const fill = i === 0 ? "#006400" : i === 2 ? COLORS.LinInt : COLORS.Morph;
      g.push({ type: "circle", z: 100, shape: { cx: 84, cy: y, r: i === 0 ? 9 : 9.5 }, style: { fill, stroke: i === 0 ? "#000" : "#444", lineWidth: i === 0 ? 1.8 : 0.8 } });
    }
    g.push(txt(n, 105, y, 24));
  });
  const col2Y = [605, 643, 682, 722, 759];
  MID_LEGEND_COL2.forEach((n, i) => {
    g.push({ type: "circle", z: 100, shape: { cx: 298, cy: col2Y[i], r: 9.5 }, style: { fill: COLORS[n], stroke: "#444", lineWidth: 0.8 } });
    g.push(txt(n, 318, col2Y[i], 24));
  });
  const col3Y = [607, 646, 684, 723];
  MID_LEGEND_COL3.forEach((n, i) => {
    const y = col3Y[i];
    g.push({ type: "polygon", z: 100, shape: { points: [[489, y - 12], [501, y], [489, y + 12], [477, y]] }, style: { fill: COLORS[n], stroke: "#444", lineWidth: 0.8 } });
    g.push(txt(n, 508, y, 24));
  });

  const degFmt = (v: number) => `${v} °`;

  return {
    animation: false,
    backgroundColor: "#ffffff",
    textStyle: { fontFamily: FONT },
    grid: [
      { left: 72, top: 79, width: 433, height: 441 },     // 0 A
      { left: 743, top: 81, width: 321, height: 526 },    // 1 B data
      { left: 743, top: 62, width: 321, height: 550 },    // 2 B vertical grid lines
      { left: 742, top: 81, width: 336, height: 526 },    // 3 B horizontal grid lines
      { left: 224, top: 783, width: 795, height: 283 },   // 4 C data
      { left: 224, top: 760, width: 795, height: 332 },   // 5 C vertical grid lines
      { left: 170, top: 783, width: 875, height: 283 },   // 6 C horizontal grid lines
    ],
    xAxis: [
      { gridIndex: 0, type: "value", position: "top", min: 80, max: 100, interval: 5, ...hidden,
        axisLabel: { fontSize: 23, margin: 4, color: "#000", fontFamily: FONT,
          formatter: (v: number) => (v === 100 ? "{r|100}" : v === 80 ? "{l|80}" : String(v)),
          rich: { r: { padding: [0, 44, 0, 0], fontSize: 23, fontFamily: FONT, color: "#000" }, l: { padding: [0, 0, 0, 14], fontSize: 23, fontFamily: FONT, color: "#000" } } },
        splitLine: dashLine([11, 8]) },
      { gridIndex: 0, type: "value", position: "bottom", min: 80, max: 100, interval: 1.25, ...hidden,
        axisLabel: { show: false }, splitLine: dashLine([1.5, 7], 1.3) },
      { gridIndex: 1, type: "value", min: 40, max: 75, interval: 5, ...hidden,
        axisLabel: { fontSize: 25, margin: 6, color: "#000", fontFamily: FONT, formatter: degFmt }, splitLine: { show: false } },
      { gridIndex: 2, type: "value", min: 40, max: 75, interval: 5, ...hidden,
        axisLabel: { show: false }, splitLine: dashLine([14, 13]) },
      { gridIndex: 3, type: "value", min: 0, max: 1, show: false },
      { gridIndex: 4, type: "value", min: 0, max: 7, interval: 1, inverse: true, ...hidden,
        axisLabel: { fontSize: 27, margin: 26, color: "#000", fontFamily: FONT }, splitLine: { show: false } },
      { gridIndex: 5, type: "value", min: 0, max: 7, interval: 1, inverse: true, ...hidden,
        axisLabel: { show: false }, splitLine: dashLine([16, 14]) },
      { gridIndex: 6, type: "value", min: 0, max: 1, show: false },
    ],
    yAxis: [
      { gridIndex: 0, type: "value", position: "right", min: 80, max: 100, interval: 5, ...hidden,
        axisLabel: { fontSize: 23, margin: 7, color: "#000", fontFamily: FONT,
          formatter: (v: number) => (v === 100 ? "{d|100}" : String(v)),
          rich: { d: { padding: [26, 0, 0, 0], fontSize: 23, fontFamily: FONT, color: "#000" } } },
        splitLine: dashLine([11, 8]) },
      { gridIndex: 0, type: "value", position: "left", min: 80, max: 100, interval: 2, ...hidden,
        axisLabel: { show: false }, splitLine: dashLine([1.5, 7], 1.3) },
      { gridIndex: 1, type: "value", min: 100, max: 155, interval: 5, ...hidden,
        axisLabel: { fontSize: 25, margin: 16, color: "#000", fontFamily: FONT, formatter: degFmt }, splitLine: { show: false } },
      { gridIndex: 2, type: "value", min: 0, max: 1, show: false },
      { gridIndex: 3, type: "value", min: 100, max: 155, interval: 5, ...hidden,
        axisLabel: { show: false }, splitLine: dashLine([14, 13]) },
      { gridIndex: 4, type: "value", min: 0, max: 3, interval: 0.5, ...hidden,
        axisLabel: { fontSize: 27, margin: 62, color: "#000", fontFamily: FONT, formatter: (v: number) => v.toFixed(1) }, splitLine: { show: false } },
      { gridIndex: 5, type: "value", min: 0, max: 1, show: false },
      { gridIndex: 6, type: "value", min: 0, max: 3, interval: 0.5, ...hidden,
        axisLabel: { show: false }, splitLine: dashLine([16, 14]) },
    ],
    series,
    graphic: { elements: g },
  };
}

export default function App() {
  const ref = useRef<HTMLDivElement>(null);
  useEffect(() => {
    if (!ref.current) return;
    const chart = echarts.init(ref.current, null, { renderer: "svg" });
    chart.setOption(buildOption());
    return () => chart.dispose();
  }, []);
  return (
    <div style={{ position: "absolute", left: 0, top: 0, width: 1086, height: 1156, background: "#fff" }}>
      <div ref={ref} style={{ width: 1086, height: 1156 }} />
    </div>
  );
}
